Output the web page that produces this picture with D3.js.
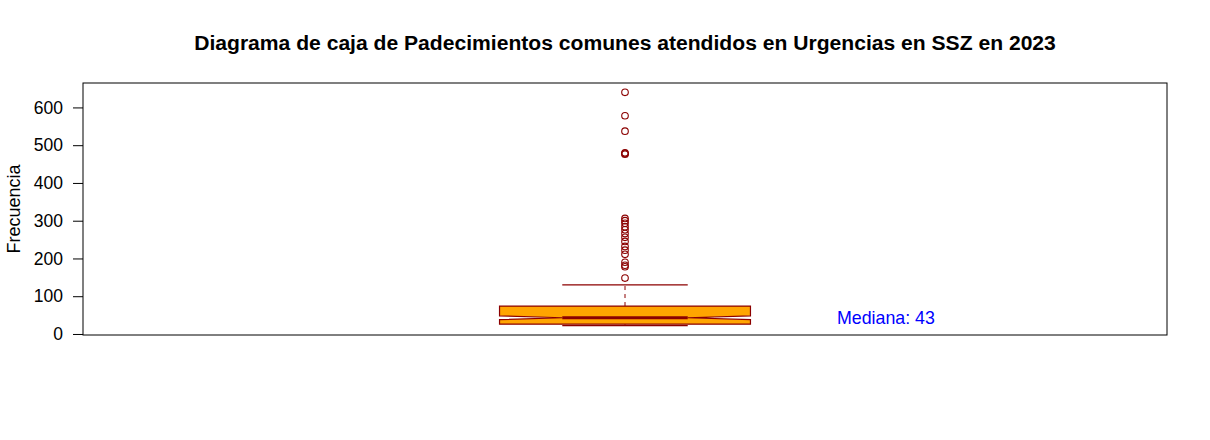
<!DOCTYPE html>
<html><head><meta charset="utf-8">
<script src="https://cdn.jsdelivr.net/npm/d3@7"></script>
<style>
body{margin:0;background:#fff;}
text{font-family:"Liberation Sans",Arial,sans-serif;}
</style></head>
<body><svg id="c" width="1210" height="440"></svg>
<script>
// Box summary: [lower whisker, Q1, median, Q3, upper whisker]
const boxStats = [22, 26, 43, 74, 130];
const notchBounds = [38, 48];
const outliers = [640, 578, 537, 480, 478, 476, 306, 300, 293, 284, 276, 266, 256, 245, 232, 222, 211, 190, 182, 178, 148];
const yTicks = [0, 100, 200, 300, 400, 500, 600];
const titleText = "Diagrama de caja de Padecimientos comunes atendidos en Urgencias en SSZ en 2023";
const yLabel = "Frecuencia";
const medianLabel = "Mediana: 43";

const svg = d3.select("#c");
const L = 83, R = 1167, T = 83, B = 335;
const dmin = d3.min([boxStats[0], ...outliers]), dmax = d3.max([boxStats[4], ...outliers]);
const pad = 0.04 * (dmax - dmin);
const y = d3.scaleLinear().domain([dmin - pad, dmax + pad]).range([B, T]);
const x = d3.scaleLinear().domain([0.46, 1.54]).range([L, R]);
const dark = "#8B0000";
const boxwex = 0.25;
const xl = x(1 - boxwex/2), xr = x(1 + boxwex/2);
const xnl = x(1 - boxwex/4), xnr = x(1 + boxwex/4);

// whiskers (dashed)
svg.append("line").attr("x1", x(1)).attr("x2", x(1)).attr("y1", y(boxStats[3])).attr("y2", y(boxStats[4]))
  .attr("stroke", dark).attr("stroke-dasharray", "4,4");
svg.append("line").attr("x1", x(1)).attr("x2", x(1)).attr("y1", y(boxStats[1])).attr("y2", y(boxStats[0]))
  .attr("stroke", dark).attr("stroke-dasharray", "4,4");
// staples
[boxStats[0], boxStats[4]].forEach(v => {
  svg.append("line").attr("x1", xnl).attr("x2", xnr).attr("y1", y(v)).attr("y2", y(v))
    .attr("stroke", dark).attr("stroke-width", 1.2);
});
// notched box
const pts = [
  [xl, y(boxStats[1])], [xl, y(notchBounds[0])], [xnl, y(boxStats[2])], [xl, y(notchBounds[1])],
  [xl, y(boxStats[3])], [xr, y(boxStats[3])], [xr, y(notchBounds[1])], [xnr, y(boxStats[2])],
  [xr, y(notchBounds[0])], [xr, y(boxStats[1])]
];
svg.append("path").attr("d", d3.line()(pts) + "Z")
  .attr("fill", "#FFA500").attr("stroke", dark).attr("stroke-width", 1.2);
// median
svg.append("line").attr("x1", xnl).attr("x2", xnr).attr("y1", y(boxStats[2])).attr("y2", y(boxStats[2]))
  .attr("stroke", dark).attr("stroke-width", 3);
// outliers
svg.selectAll("circle.o").data(outliers).enter().append("circle")
  .attr("cx", x(1)).attr("cy", d => y(d)).attr("r", 3.3)
  .attr("fill", "none").attr("stroke", dark).attr("stroke-width", 1.1);

// frame
svg.append("rect").attr("x", L).attr("y", T).attr("width", R - L).attr("height", B - T)
  .attr("fill", "none").attr("stroke", "#000").attr("stroke-width", 1);

// y axis
const ax = svg.append("g").attr("transform", `translate(${L},0)`)
  .call(d3.axisLeft(y).tickValues(yTicks).tickSize(10).tickPadding(10).tickFormat(d3.format("d")));
ax.select(".domain").remove();
ax.selectAll("line").attr("stroke", "#000");
ax.selectAll("text").attr("font-size", 17.5).attr("fill", "#000")
  .attr("font-family", "'Liberation Sans',Arial,sans-serif");

svg.append("text").attr("transform", `translate(20,${(T + B) / 2}) rotate(-90)`)
  .attr("text-anchor", "middle").attr("font-size", 18).text(yLabel);

svg.append("text").attr("x", (L + R) / 2).attr("y", 50).attr("text-anchor", "middle")
  .attr("font-size", 21.1).attr("font-weight", "bold").text(titleText);

svg.append("text").attr("x", x(1.26)).attr("y", y(boxStats[2])).attr("dy", "0.35em")
  .attr("text-anchor", "middle").attr("font-size", 17.8).attr("fill", "#0000FF").text(medianLabel);
</script></body></html>
